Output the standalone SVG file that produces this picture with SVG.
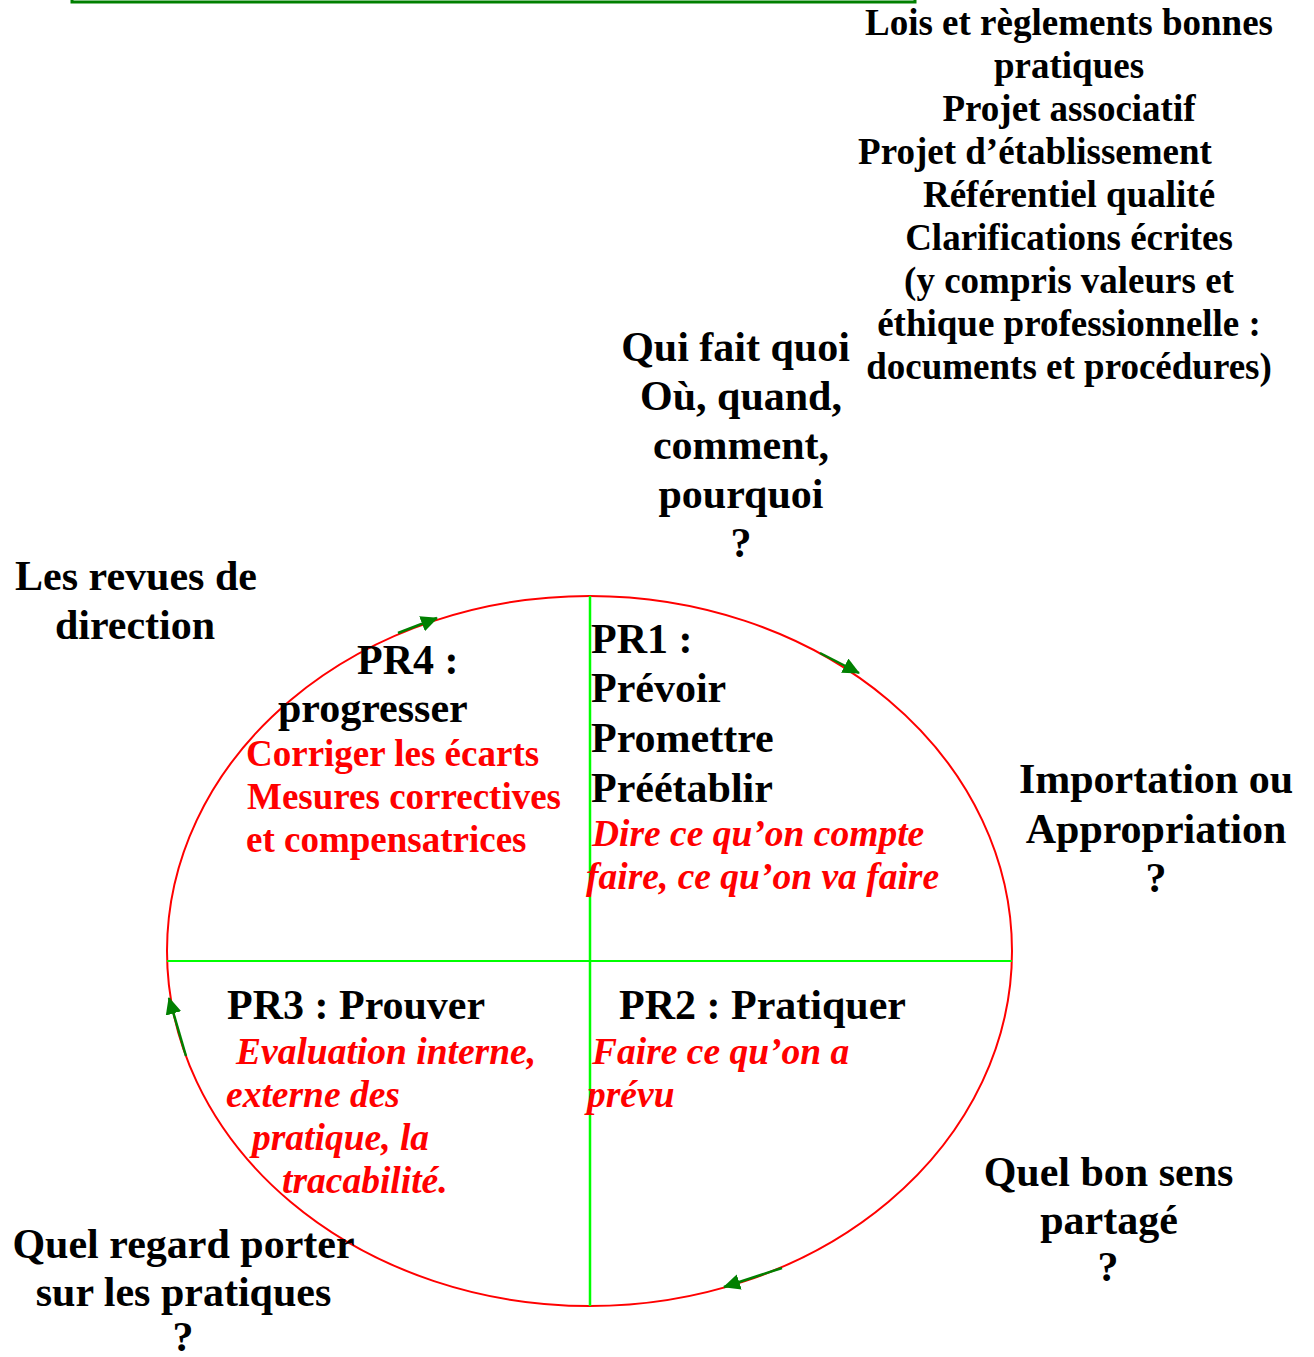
<svg xmlns="http://www.w3.org/2000/svg" width="1314" height="1357" viewBox="0 0 1314 1357">
<style>
text{font-family:"Liberation Serif","Times New Roman",serif;font-weight:bold;}
.b{font-size:42px;fill:#000;}
.s{font-size:37px;fill:#000;}
.r{font-size:37px;fill:#ff0000;}
.ri{font-size:37.5px;fill:#ff0000;font-style:italic;}
.m{text-anchor:middle;}
.arr{stroke:#008000;stroke-width:2.5;fill:none;marker-end:url(#ah);}
</style>
<defs>
<marker id="ah" markerUnits="userSpaceOnUse" markerWidth="18" markerHeight="16" refX="16" refY="8" orient="auto">
<path d="M0,0 L17,8 L0,16 Z" fill="#008000"/>
</marker>
</defs>
<rect x="0" y="0" width="1314" height="1357" fill="#fff"/>
<rect id="frame" x="72" y="-20" width="843" height="22" fill="none" stroke="#008000" stroke-width="3"/>
<g id="cycle">
<ellipse cx="589.5" cy="951" rx="422.5" ry="355" fill="none" stroke="#ff0000" stroke-width="2"/>
<line x1="167" y1="961" x2="1012" y2="961" stroke="#00ff00" stroke-width="2"/>
<line x1="590" y1="596" x2="590" y2="1306" stroke="#00ff00" stroke-width="2.5"/>
</g>
<g id="connectors">
<line class="arr" x1="398" y1="633" x2="437" y2="618"/>
<line class="arr" x1="820" y1="653" x2="859" y2="673"/>
<line class="arr" x1="186" y1="1056" x2="169" y2="998"/>
<line class="arr" x1="782" y1="1268" x2="724" y2="1287"/>
</g>
<g id="references">
<text class="s m" x="1069" y="35">Lois et règlements bonnes</text>
<text class="s m" x="1069" y="78">pratiques</text>
<text class="s m" x="1069" y="121">Projet associatif</text>
<text class="s m" x="1035" y="164">Projet d’établissement</text>
<text class="s m" x="1069" y="207">Référentiel qualité</text>
<text class="s m" x="1069" y="250">Clarifications écrites</text>
<text class="s m" x="1069" y="293">(y compris valeurs et</text>
<text class="s m" x="1069" y="336">éthique professionnelle :</text>
<text class="s m" x="1069" y="379">documents et procédures)</text>
</g>
<g id="question-top">
<text class="b m" x="735.5" y="361">Qui fait quoi</text>
<text class="b m" x="741" y="410">Où, quand,</text>
<text class="b m" x="741" y="459">comment,</text>
<text class="b m" x="741" y="508">pourquoi</text>
<text class="b m" x="741" y="557">?</text>
</g>
<g id="question-left-top">
<text class="b m" x="136" y="590">Les revues de</text>
<text class="b m" x="135" y="639">direction</text>
</g>
<g id="question-right">
<text class="b m" x="1156" y="793">Importation ou</text>
<text class="b m" x="1156" y="843">Appropriation</text>
<text class="b m" x="1156" y="892">?</text>
</g>
<g id="question-bottom-right">
<text class="b m" x="1108.5" y="1186">Quel bon sens</text>
<text class="b m" x="1109" y="1234">partagé</text>
<text class="b m" x="1108" y="1281">?</text>
</g>
<g id="question-bottom-left">
<text class="b m" x="183.5" y="1258">Quel regard porter</text>
<text class="b m" x="183.5" y="1306">sur les pratiques</text>
<text class="b m" x="183" y="1351">?</text>
</g>
<g id="pr1">
<text class="b" x="591" y="653">PR1 :</text>
<text class="b" x="591" y="702">Prévoir</text>
<text class="b" x="591" y="752">Promettre</text>
<text class="b" x="591" y="802">Préétablir</text>
<text class="ri" x="592" y="846">Dire ce qu’on compte</text>
<text class="ri" x="586" y="889">faire, ce qu’on va faire</text>
</g>
<g id="pr2">
<text class="b" x="619" y="1019">PR2 : Pratiquer</text>
<text class="ri" x="592" y="1064">Faire ce qu’on a</text>
<text class="ri" x="587" y="1107">prévu</text>
</g>
<g id="pr3">
<text class="b" x="227" y="1019">PR3 : Prouver</text>
<text class="ri" x="236" y="1064">Evaluation interne,</text>
<text class="ri" x="226" y="1107">externe des</text>
<text class="ri" x="252" y="1150">pratique, la</text>
<text class="ri" x="282" y="1193">tracabilité.</text>
</g>
<g id="pr4">
<text class="b" x="357" y="674">PR4 :</text>
<text class="b" x="278" y="722">progresser</text>
<text class="r" x="246" y="766">Corriger les écarts</text>
<text class="r" x="247" y="809">Mesures correctives</text>
<text class="r" x="246" y="852">et compensatrices</text>
</g>
</svg>
